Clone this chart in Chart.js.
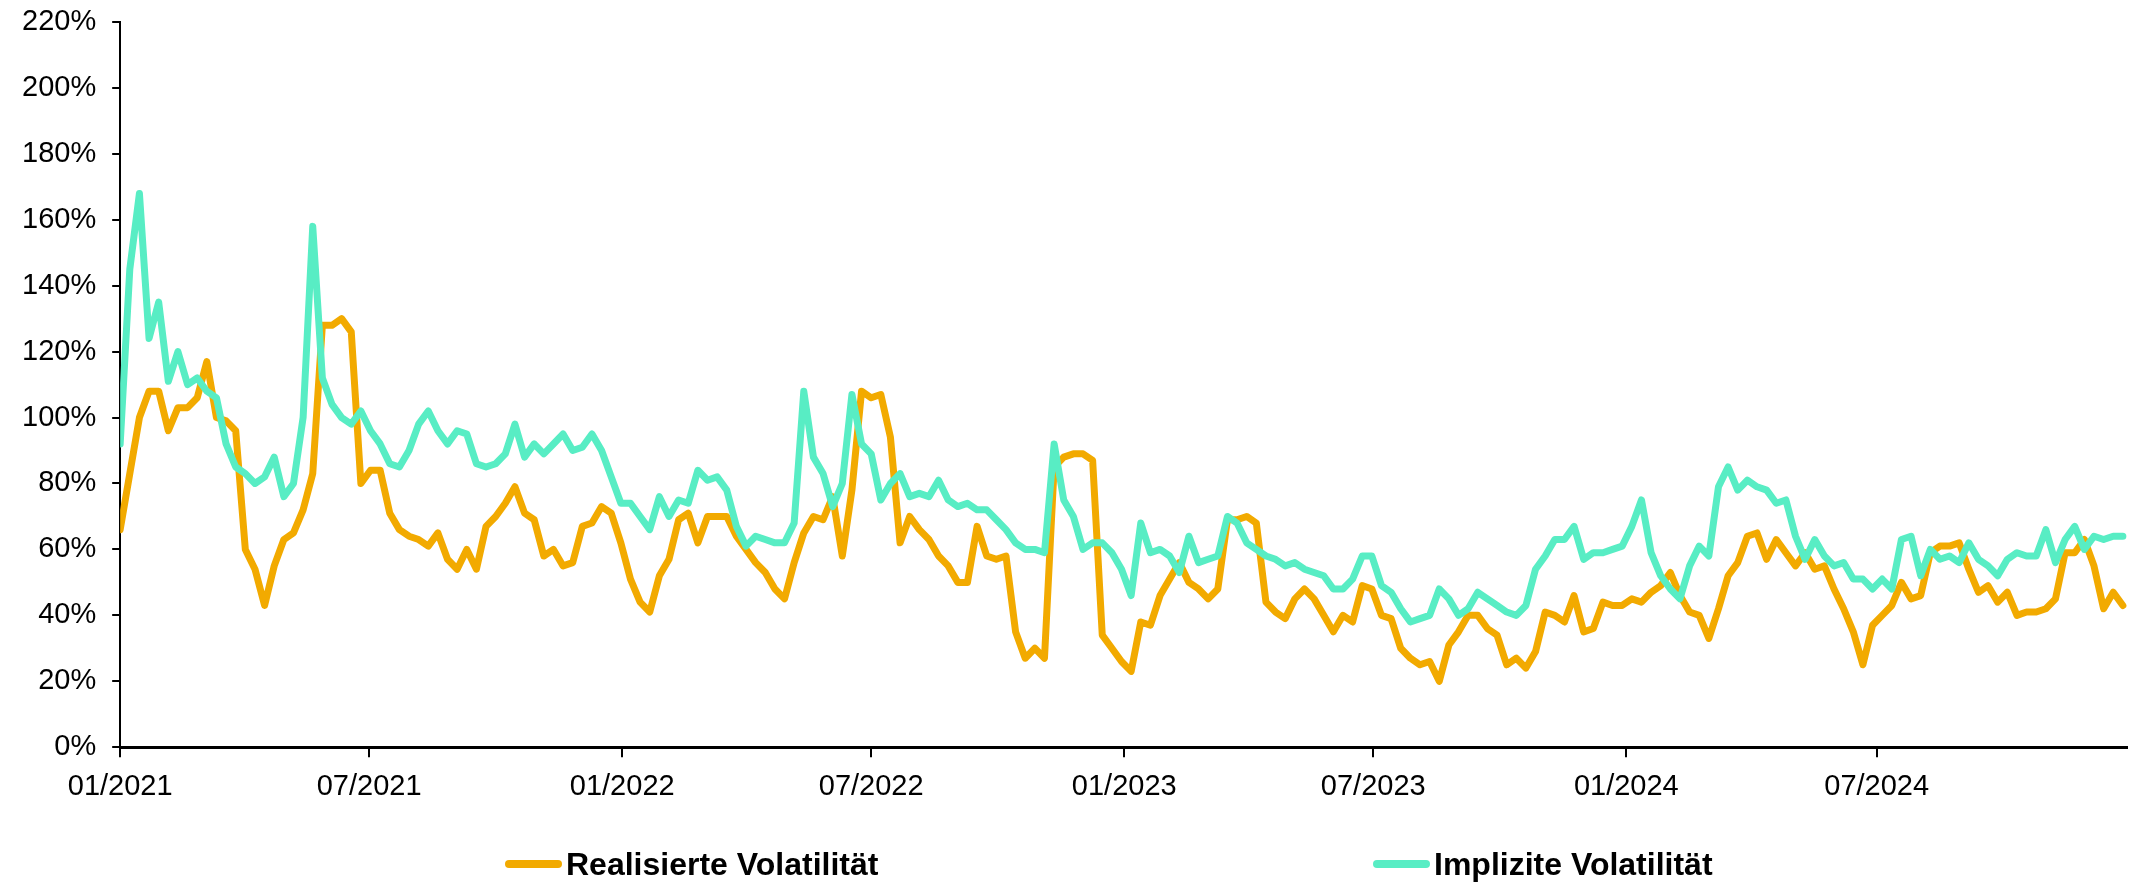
<!DOCTYPE html>
<html>
<head>
<meta charset="utf-8">
<script src="https://cdn.jsdelivr.net/npm/chart.js@4"></script>
<style>
  html, body { margin: 0; padding: 0; background: #fff; }
  #wrap { position: relative; width: 2131px; height: 882px; }
  .legend-item { position: absolute; top: 845px; height: 38px; display: flex; align-items: center;
    font: bold 32px "Liberation Sans", Arial, sans-serif; color: #000; white-space: nowrap; }
  .legend-line { display: inline-block; width: 57px; height: 8px; border-radius: 4px; margin-right: 4px; }
</style>
</head>
<body>
<div id="wrap">
  <canvas id="chart" width="2131" height="882"></canvas>
  <div class="legend-item" style="left:505px"><span class="legend-line" style="background:#F2AA00"></span>Realisierte Volatilität</div>
  <div class="legend-item" style="left:1373px"><span class="legend-line" style="background:#58EDC4"></span>Implizite Volatilität</div>
</div>
<script>
// weekly observations, first one on startDate
const startDate = '2021-01-01';
const endDate = '2024-12-30';

const tickDates = ['2021-01-01', '2021-07-01', '2022-01-01', '2022-07-01',
                   '2023-01-01', '2023-07-01', '2024-01-01', '2024-07-01'];
const tickLabels = ['01/2021', '07/2021', '01/2022', '07/2022',
                    '01/2023', '07/2023', '01/2024', '07/2024'];

// Realisierte Volatilität (%)
const realized = [
  66, 83, 100, 108, 108, 96, 103, 103, 106, 117,
  100, 99, 96, 60, 54, 43, 55, 63, 65, 72,
  83, 128, 128, 130, 126, 80, 84, 84, 71, 66,
  64, 63, 61, 65, 57, 54, 60, 54, 67, 70,
  74, 79, 71, 69, 58, 60, 55, 56, 67, 68,
  73, 71, 62, 51, 44, 41, 52, 57, 69, 71,
  62, 70, 70, 70, 64, 60, 56, 53, 48, 45,
  56, 65, 70, 69, 76, 58, 78, 108, 106, 107,
  94, 62, 70, 66, 63, 58, 55, 50, 50, 67,
  58, 57, 58, 35, 27, 30, 27, 85, 88, 89,
  89, 87, 34, 30, 26, 23, 38, 37, 46, 51,
  56, 50, 48, 45, 48, 69, 69, 70, 68, 44,
  41, 39, 45, 48, 45, 40, 35, 40, 38, 49,
  48, 40, 39, 30, 27, 25, 26, 20, 31, 35,
  40, 40, 36, 34, 25, 27, 24, 29, 41, 40,
  38, 46, 35, 36, 44, 43, 43, 45, 44, 47,
  49, 53, 46, 41, 40, 33, 42, 52, 56, 64,
  65, 57, 63, 59, 55, 59, 54, 55, 48, 42,
  35, 25, 37, 40, 43, 50, 45, 46, 59, 61,
  61, 62, 54, 47, 49, 44, 47, 40, 41, 41,
  42, 45, 59, 59, 63, 55, 42, 47, 43
];

// Implizite Volatilität (%)
const implied = [
  92, 145, 168, 124, 135, 111, 120, 110, 112, 108,
  106, 92, 85, 83, 80, 82, 88, 76, 80, 100,
  158, 112, 104, 100, 98, 102, 96, 92, 86, 85,
  90, 98, 102, 96, 92, 96, 95, 86, 85, 86,
  89, 98, 88, 92, 89, 92, 95, 90, 91, 95,
  90, 82, 74, 74, 70, 66, 76, 70, 75, 74,
  84, 81, 82, 78, 67, 61, 64, 63, 62, 62,
  68, 108, 88, 83, 73, 80, 107, 92, 89, 75,
  80, 83, 76, 77, 76, 81, 75, 73, 74, 72,
  72, 69, 66, 62, 60, 60, 59, 92, 75, 70,
  60, 62, 62, 59, 54, 46, 68, 59, 60, 58,
  53, 64, 56, 57, 58, 70, 68, 62, 60, 58,
  57, 55, 56, 54, 53, 52, 48, 48, 51, 58,
  58, 49, 47, 42, 38, 39, 40, 48, 45, 40,
  42, 47, 45, 43, 41, 40, 43, 54, 58, 63,
  63, 67, 57, 59, 59, 60, 61, 67, 75, 59,
  52, 48, 45, 55, 61, 58, 79, 85, 78, 81,
  79, 78, 74, 75, 64, 57, 63, 58, 55, 56,
  51, 51, 48, 51, 48, 63, 64, 52, 60, 57,
  58, 56, 62, 57, 55, 52, 57, 59, 58, 58,
  66, 56, 63, 67, 60, 64, 63, 64, 64
];

const dayOf = s => (Date.parse(s) - Date.parse(startDate)) / 86400000;
const toPoints = arr => arr.map((v, i) => ({ x: i * 7, y: v }));
const tickDays = tickDates.map(dayOf);

const font = { family: '"Liberation Sans", Arial, sans-serif', size: 29 };

new Chart(document.getElementById('chart').getContext('2d'), {
  type: 'line',
  data: {
    datasets: [
      {
        label: 'Realisierte Volatilität',
        data: toPoints(realized),
        borderColor: '#F2AA00',
        backgroundColor: '#F2AA00',
        borderWidth: 7,
        order: 1
      },
      {
        label: 'Implizite Volatilität',
        data: toPoints(implied),
        borderColor: '#58EDC4',
        backgroundColor: '#58EDC4',
        borderWidth: 7,
        order: 0
      }
    ]
  },
  options: {
    responsive: false,
    animation: false,
    layout: { padding: { left: 6, right: 4, top: 0, bottom: 66 } },
    elements: {
      point: { radius: 0 },
      line: { tension: 0, borderJoinStyle: 'round', borderCapStyle: 'round' }
    },
    plugins: {
      legend: { display: false },
      tooltip: { enabled: false }
    },
    scales: {
      x: {
        type: 'linear',
        min: 0,
        max: dayOf(endDate),
        afterBuildTicks: axis => { axis.ticks = tickDays.map(v => ({ value: v })); },
        ticks: {
          color: '#000',
          font: font,
          padding: 12,
          maxRotation: 0,
          autoSkip: false,
          callback: (v, i) => tickLabels[i]
        },
        grid: { drawOnChartArea: false, drawTicks: true, tickLength: 10, color: '#000', lineWidth: 2 },
        border: { display: true, color: '#000', width: 3 }
      },
      y: {
        min: 0,
        max: 220,
        afterFit: axis => { axis.paddingTop = 22; },
        ticks: {
          stepSize: 20,
          color: '#000',
          font: font,
          padding: 16,
          callback: v => v + '%'
        },
        grid: { drawOnChartArea: false, drawTicks: true, tickLength: 8, color: '#000', lineWidth: 2 },
        border: { display: true, color: '#000', width: 2 }
      }
    }
  }
});
</script>
</body>
</html>
